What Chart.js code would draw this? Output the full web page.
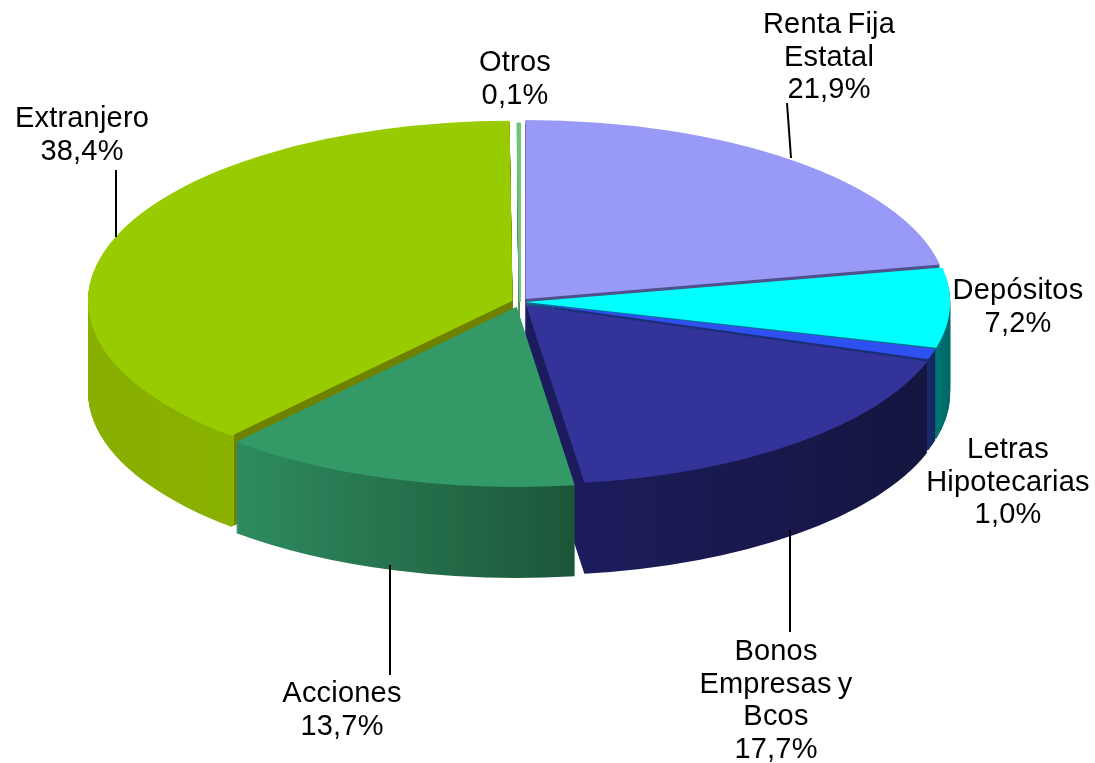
<!DOCTYPE html>
<html><head><meta charset="utf-8">
<style>html,body{margin:0;padding:0;background:#fff}#w{width:1095px;height:763px;position:relative}</style>
<script src="https://cdn.jsdelivr.net/npm/chart.js@4"></script></head>
<body><div id="w"><canvas id="c"></canvas></div>
<script>
const categories = ['Renta Fija Estatal','Depósitos','Letras Hipotecarias','Bonos Empresas y Bcos','Acciones','Extranjero','Otros'];
const values = [21.9,7.2,1.0,17.7,13.7,38.4,0.1];
const labelLines = [['Renta Fija','Estatal'],['Depósitos'],['Letras','Hipotecarias'],['Bonos','Empresas y','Bcos'],['Acciones'],['Extranjero'],['Otros']];
const topColors = ['#9999F8','#00FFFF','#2E50F0','#333399','#339966','#99CC00','#70C478'];
const wallFrom = ['#50508a','#007878','#1a2f78','#1C1C5C','#2E8B60','#88AE00','#50905a'];
const wallTo   = ['#50508a','#006868','#16285f','#151540','#1C5638','#8AB200','#50905a'];
const cutColor = [null,null,null,null,null,'#6E8200',null];
const offsets  = [30,18,14,32,40,27,0];
const borders  = [0,0,0,0,0,0,1.6];
const drawOrder = [6,0,5,1,2,3,4];
const labelPos = [[829,25],[1018,291],[1008,450],[776,652],[342,694],[82,119],[515,63]];
const leaders = [[787,103,791,158],[116,170,116,237],[390,565,390,675],[790,530,790,632]];
const pie = {cx:520,cy:302,rx:422,ry:179,depth:91};
const font = {size:29,line:32.5,spacing:'0.2px',word:'-2px'};

const fmt = v => v.toFixed(1).replace('.',',')+'%';

const tilt = {
  id:'tilt',
  beforeDatasetsDraw(chart){
    const ctx = chart.ctx, arcs = chart.getDatasetMeta(0).data, R = arcs[0].outerRadius, a0 = arcs[0];
    const sx = pie.rx/R, sy = pie.ry/R;
    const place = dy => { ctx.setTransform(sx,0,0,sy,pie.cx-a0.x*sx,pie.cy+dy-a0.y*sy); };
    ctx.save();
    for(const i of drawOrder){
      const a = arcs[i], o = a.options;
      let lo=1e9,hi=-1e9;
      for(let k=0;k<=40;k++){ const t=a.startAngle+(a.endAngle-a.startAngle)*k/40, s=Math.sin(t);
        if(s>=-0.02){ const x=Math.cos(t); lo=Math.min(lo,x); hi=Math.max(hi,x);} }
      if(lo>hi){lo=-1;hi=1}
      const end = Math.max(1.02,hi+0.01), t = (hi-lo)/(end-lo);
      const g = ctx.createLinearGradient(a.x+lo*a.outerRadius,0,a.x+end*a.outerRadius,0);
      const cut = cutColor[i]||wallTo[i];
      g.addColorStop(0,wallFrom[i]); g.addColorStop(t,wallTo[i]); g.addColorStop(t,cut); g.addColorStop(1,cut);
      a.options = Object.assign({},o,{backgroundColor:g,borderColor:g,borderWidth:0});
      for(let d=pie.depth;d>=1;d--){ place(d); a.draw(ctx); }
      a.options = o;
    }
    place(0);
    for(const i of drawOrder){ arcs[i].draw(ctx); }
    ctx.restore();
    return true;
  },
  beforeDatasetDraw(){ return false; },
  afterDraw(chart){
    const ctx = chart.ctx;
    ctx.save();
    ctx.strokeStyle='#000'; ctx.lineWidth=2;
    for(const l of leaders){ ctx.beginPath(); ctx.moveTo(l[0],l[1]); ctx.lineTo(l[2],l[3]); ctx.stroke(); }
    ctx.fillStyle='#000'; ctx.textAlign='center'; ctx.textBaseline='middle';
    ctx.font=font.size+'px "Liberation Sans"'; ctx.letterSpacing=font.spacing; ctx.wordSpacing=font.word;
    categories.forEach((c,i)=>{
      const lines = labelLines[i].concat(fmt(values[i]));
      lines.forEach((t,j)=>ctx.fillText(t,labelPos[i][0],labelPos[i][1]+j*font.line));
    });
    ctx.restore();
  }
};

new Chart(document.getElementById('c'),{
  type:'pie',
  data:{labels:categories,datasets:[{data:values,backgroundColor:topColors,borderColor:topColors,borderWidth:borders,offset:offsets,hoverOffset:0,clip:false}]},
  options:{responsive:true,maintainAspectRatio:false,animation:false,
    plugins:{legend:{display:false},tooltip:{enabled:false},title:{display:false}},
    layout:{padding:0}},
  plugins:[tilt]
});
</script></body></html>
